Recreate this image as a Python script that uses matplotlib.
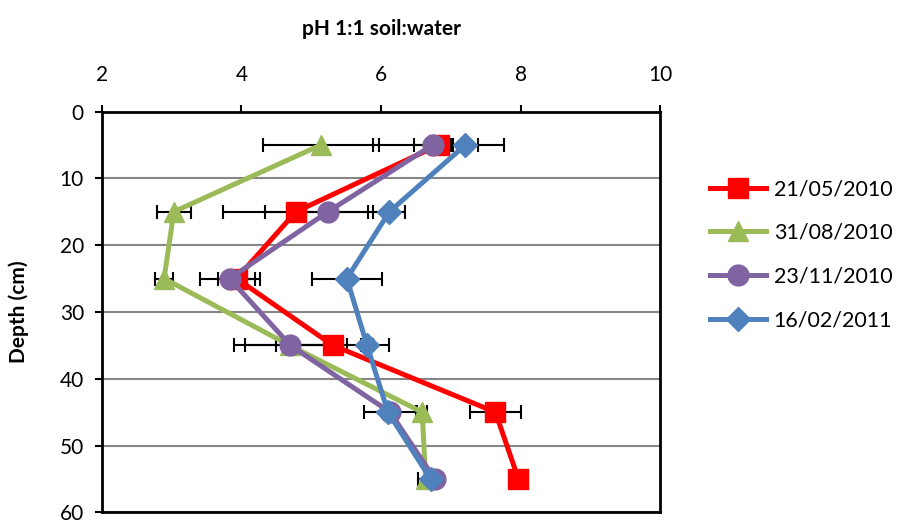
import numpy as np
import matplotlib.pyplot as plt

plt.rcParams['font.family'] = ['Lato', 'DejaVu Sans']

depth = [5, 15, 25, 35, 45, 55]
dates = ['21/05/2010', '31/08/2010', '23/11/2010', '16/02/2011']

ph_may10 = [6.83, 4.78, 3.93, 5.31, 7.64, 7.97]
ph_aug10 = [5.14, 3.03, 2.89, 4.69, 6.59, 6.64]
ph_nov10 = [6.74, 5.24, 3.83, 4.70, 6.13, 6.77]
ph_feb11 = [7.21, 6.12, 5.51, 5.80, 6.10, 6.71]

err_may10 = [0.94, 1.04, 0.26, 0.81, 0.37, 0.0]
err_aug10 = [0.83, 0.24, 0.13, 0.64, 0.07, 0.11]
err_nov10 = [0.26, 0.91, 0.43, 0.81, 0.37, 0.0]
err_feb11 = [0.18, 0.23, 0.50, 0.09, 0.0, 0.0]

series = [
    (ph_may10, err_may10, '#FF0000', 's', 15),
    (ph_aug10, err_aug10, '#9BBB59', '^', 15),
    (ph_nov10, err_nov10, '#8064A2', 'o', 15),
    (ph_feb11, err_feb11, '#4F81BD', 'D', 12),
]

fig = plt.figure(figsize=(9.05, 5.25), dpi=100)
ax = fig.add_axes([0.1127, 0.024, 0.6166, 0.7636])

for i, (ph, err, col, mk, ms) in enumerate(series):
    ax.errorbar(ph, depth, xerr=err, fmt='none', ecolor='black',
                elinewidth=1.5, capsize=5, capthick=1.5, zorder=2)
for i, (ph, err, col, mk, ms) in enumerate(series):
    ax.plot(ph, depth, color=col, marker=mk, markersize=ms, linewidth=3.6,
            label=dates[i], zorder=3 + i)

ax.set_xlim(2, 10)
ax.set_ylim(60, 0)
ax.set_xticks([2, 4, 6, 8, 10])
ax.set_yticks(np.arange(0, 61, 10))
ax.xaxis.tick_top()
ax.tick_params(axis='both', labelsize=15, direction='out', length=5, width=1.5, pad=8)
ax.tick_params(axis='x', pad=14)
ax.yaxis.grid(True, color='#868686', linewidth=1.5)
ax.set_axisbelow(True)
for s in ax.spines.values():
    s.set_linewidth(2)

ax.set_xlabel('pH 1:1 soil:water', fontsize=15, fontweight='bold', labelpad=22)
ax.xaxis.set_label_position('top')
ax.set_ylabel('Depth (cm)', fontsize=15, fontweight='bold', labelpad=22)

ax.legend(loc='center left', bbox_to_anchor=(1.09, 0.643), frameon=False,
          borderaxespad=0, borderpad=0, fontsize=15.5, handlelength=2.6,
          labelspacing=1.1, handletextpad=0.35)

fig.savefig('out.png')
